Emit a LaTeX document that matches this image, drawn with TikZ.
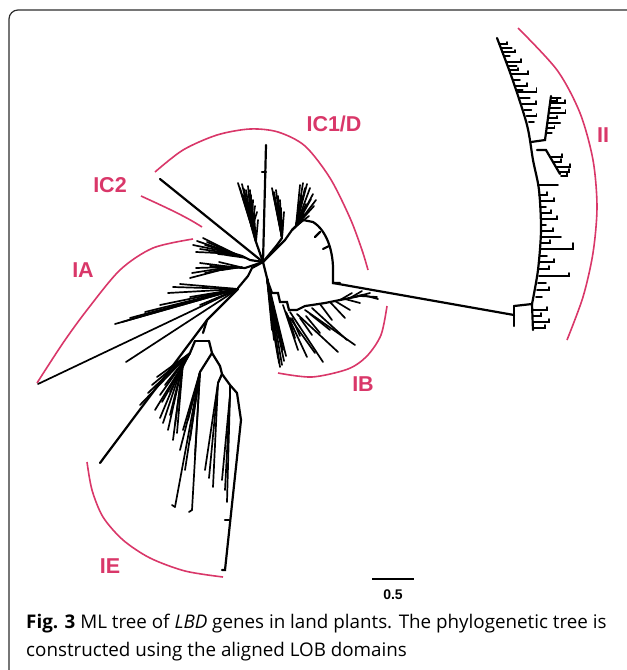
\documentclass[tikz,border=0pt]{standalone}
\usepackage{fontspec}
\setmainfont{Open Sans}
\newfontfamily\lblfont{Liberation Sans}
\definecolor{cladepink}{RGB}{217,55,105}
\definecolor{framegray}{RGB}{45,45,45}
\tikzset{
  br/.style={line width=2.2pt,line cap=round},
  lf/.style={line width=1.7pt,line cap=round},
  clade/.style={draw=cladepink,line width=1.6pt},
  cladelbl/.style={text=cladepink,font=\lblfont\bfseries\fontsize{21.5}{24}\selectfont}
}

\begin{document}
\begin{tikzpicture}[x=1pt,y=-1pt]
  \useasboundingbox (0,0) rectangle (627,670);
  \draw[framegray,line width=1.2pt,rounded corners=9pt] (9,690) -- (9,10) -- (650,10);

  \draw[clade] plot[smooth] coordinates {(155,172) (183,150) (217,135) (250,129) (278,132) (305,146) (330,178) (350,218) (362,250) (368,270)};
  \draw[clade] (141,196) .. controls (165,207) and (185,216) .. (202,227);
  \draw[clade] plot[smooth] coordinates {(193,239) (153,248) (120,270) (87,310) (63,343) (37,383)};
  \draw[clade] plot[smooth] coordinates {(87,462) (92,490) (103,517) (123,540) (150,558) (185,571) (223,577)};
  \draw[clade] plot[smooth] coordinates {(387,306) (381,335) (367,356) (348,369) (312,377) (278,373)};
  \draw[clade] plot[smooth] coordinates {(518,28) (557,70) (580,113) (593,160) (597,207) (593,253) (583,297) (567,340)};

  \node[cladelbl] (lblIC1D) at (334,124) {IC1/D};
  \node[cladelbl] (lblIC2) at (110,185) {IC2};
  \node[cladelbl] (lblIA) at (83,270) {IA};
  \node[cladelbl] (lblIB) at (363,384) {IB};
  \node[cladelbl] (lblIE) at (110,566) {IE};
  \node[cladelbl] (lblII) at (603,135) {II};

  \coordinate (hub) at (263,262);
  \coordinate (ic2tip) at (160,179);
  \coordinate (dtop) at (266,145);
  \coordinate (arcbase) at (333,283);
  \coordinate (iibase) at (514,315);

  \draw[br] (hub) -- (ic2tip);
  \draw[br] (hub) -- (dtop);
  \draw[br] (266,172) -- (262,172);

  \draw[br] (hub) -- (256,242) -- (252,228);
  \foreach \x/\y in {238/183,240/188,242/184,244/189,246/190,248/186,249/194,251/195,253/200,255/206,257/212,250/190}
    \draw[lf] (252,228) -- (\x,\y);
  \foreach \x/\y in {243/195,246/200,248/204,250/206,254/214,258/220}
    \draw[lf] (256,242) -- (\x,\y);
  \draw[br] (hub) -- (277,245) -- (282,238);
  \foreach \x/\y in {272/188,273/193,274/192,276/190,278/196,280/200,277/204,281/208,284/212,279/215,283/220,275/200}
    \draw[lf] (282,238) -- (\x,\y);
  \draw[br] (hub) -- (285,240) -- (292,230) -- (296,226);
  \foreach \x/\y in {300/185,303/183,305/188,307/184,310/188,313/194,316/200,314/206,306/204,299/210,304/214,309/216,302/196,311/199}
    \draw[lf] (296,226) -- (\x,\y);
  \draw[br] (292,230) -- (303,220) -- (313,222) .. controls (326,230) and (334,250) .. (333,275) -- (arcbase) -- (340,283);
  \draw[br] (320,232) -- (315,237);
  \draw[br] (329,246) -- (323,249);
  \draw[br] (arcbase) -- (iibase);

  \draw[br] (514,306) -- (514,326);
  \draw[br] (514,306) -- (532,304);
  \draw[br] plot[smooth] coordinates {(532,304) (538,270) (541,230) (539,190) (533,160) (527,125) (512,78) (497,38)};
  \foreach \y/\l/\t in {44/8/2,48/11/0,52/13/2,56/6/0,62/15/3,66/9/0,70/9/2,74/17/3,80/7/0,86/12/3,90/6/0,92/19/4,98/10/0,104/14/3,110/7/0,116/10/2,122/5/0}
    \draw[lf] ({497+(\y-38)*0.38},\y) -- ++(\l,0) -- ++(0,-\t);
  \draw[br] (531,142) -- (545,140) -- (551,96);
  \foreach \y/\l/\t in {98/10/0,101/7/2,103/15/3,108/11/0,113/17/3,118/9/2,123/13/0,128/8/2,133/6/0}
    \draw[lf] ({551-(\y-96)*0.14},\y) -- ++(\l,0) -- ++(0,-\t);
  \draw[br] (537,150) -- (546,150) -- (560,174);
  \foreach \x/\y/\l in {550/157/12,553/162/8,556/167/14,559/172/10,561/176/6}
    \draw[lf] (\x,\y) -- ++(\l,0) -- ++(0,-3);
  \foreach \x/\y/\l/\t in {538/185/20/0,539/195/8/3,540/201/14/3,540/207/6/0,541/213/10/3,541/219/16/3,541/225/5/0,541/231/12/3,541/237/20/0,541/243/9/3,541/249/32/6,540/256/7/0,540/262/14/3,539/269/10/3,539/276/30/3,538/283/8/0,537/290/12/3,536/297/6/0}
    \draw[lf] (\x,\y) -- ++(\l,0) -- ++(0,-\t);
  \draw[br] (532,304) -- (533,330);
  \foreach \y/\l in {310/14,316/8,322/16,328/12}
    \draw[lf] (533,\y) -- ++(\l,0) -- ++(0,-3);

  \draw[br] (hub) -- (250,260) -- (242,256) -- (232,253);
  \foreach \ox/\x/\y in {232/193/245,232/197/241,234/200/249,236/205/245,238/209/252,240/213/247,242/218/254,244/222/250,246/226/255,236/203/238,234/196/252,238/207/242}
    \draw[lf] (\ox,{253+(\ox-232)*0.35}) -- (\x,\y);
  \draw[br] (hub) -- (245,268) -- (230,267);
  \foreach \ox/\x/\y in {230/192/273,230/196/268,232/200/263,234/205/273,236/210/266,238/214/271,240/219/262,242/222/270,232/190/278}
    \draw[lf] (\ox,267) -- (\x,\y);
  \draw[br] (hub) -- (252,268) -- (248,276) -- (238,288);
  \foreach \x/\y in {168/293,173/287,180/284,115/324,122/322,130/318,145/312,160/305,126/362,38/384,200/305,190/297}
    \draw[lf] (238,289) -- (\x,\y);

  \draw[br] (238,289) -- (207,320) -- (203,333);
  \draw[br] (207,320) -- (100,463);
  \draw[br] (195,341) -- (209,341);
  \draw[br] (195,341) -- (190,353) -- (183,363);
  \foreach \x/\y in {157/377,152/385,148/393,140/405,160/395,165/385,155/410,162/402,170/392}
    \draw[lf] (190,353) -- (\x,\y);
  \foreach \x/\y in {163/423,170/415,173/440,177/433,168/430,160/418,175/425}
    \draw[lf] (183,363) -- (\x,\y);
  \draw[br] (209,341) -- (212,353) -- (220,366);
  \draw[br] (212,353) -- (200,372);
  \foreach \x/\y in {175/507,192/510,185/470,180/450,190/440,195/455,183/430,188/420}
    \draw[lf] (200,372) -- (\x,\y);
  \draw[br] (220,366) -- (222,374) -- (230,385);
  \draw[br] (222,374) -- (218,383);
  \foreach \x/\y in {213/487,205/470,209/478}
    \draw[lf] (218,383) -- (\x,\y);
  \draw[br] (230,385) -- (237,393);
  \draw[br] (230,385) -- (230,395);
  \foreach \x/\y in {227/502,222/480,225/490}
    \draw[lf] (230,395) -- (\x,\y);
  \draw[br] (237,393) -- (241,420) -- (225,570) -- (222,570);
  \draw[br] (229,520) -- (225,520);
  \draw[lf] (175,507) -- (172,505);
  \draw[lf] (192,510) -- (189,512);

  \draw[br] (hub) -- (268,282);
  \foreach \x/\y in {272/330,274/340,276/346,277/352,278/358,279/363,280/367,282/365,284/361,286/356,283/350,281/344,279/338}
    \draw[lf] (267,278) -- (\x,\y);
  \draw[br] (268,282) -- (272,293) -- (278,293) -- (280,302) -- (287,302) -- (289,310) -- (297,310);
  \foreach \ox/\oy/\x/\y in {290/312/323/362,297/314/338/352,305/310/355/345,312/308/347/340,286/312/307/357,283/305/298/350,290/318/315/353,288/316/295/338,292/318/300/336,300/318/312/335,306/316/320/333,310/314/330/330}
    \draw[lf] (\ox,\oy) -- (\x,\y);
  \draw[br] (297,310) -- (305,306) -- (312,305) -- (325,303) -- (340,300) -- (350,298) -- (363,295);
  \foreach \ox/\oy/\x/\y in {340/300/352/293,350/298/362/291,355/297/370/293,360/296/377/297,363/295/378/299,345/299/360/303,320/304/332/320,330/302/345/318,335/301/350/310}
    \draw[lf] (\ox,\oy) -- (\x,\y);

  \draw[line width=1.8pt] (372,579) -- (414,579);
  \node[font=\lblfont\bfseries\fontsize{14}{16}\selectfont] (sclbl) at (393,595) {0.5};

  \node[anchor=base west,inner sep=0,font=\fontsize{18.8}{22}\selectfont] (capa) at (26,628) {\textbf{Fig. 3} ML tree of \textit{LBD} genes in land plants. The phylogenetic tree is};
  \node[anchor=base west,inner sep=0,font=\fontsize{18.8}{22}\selectfont] (capb) at (26,656) {constructed using the aligned LOB domains};
\end{tikzpicture}
\end{document}
